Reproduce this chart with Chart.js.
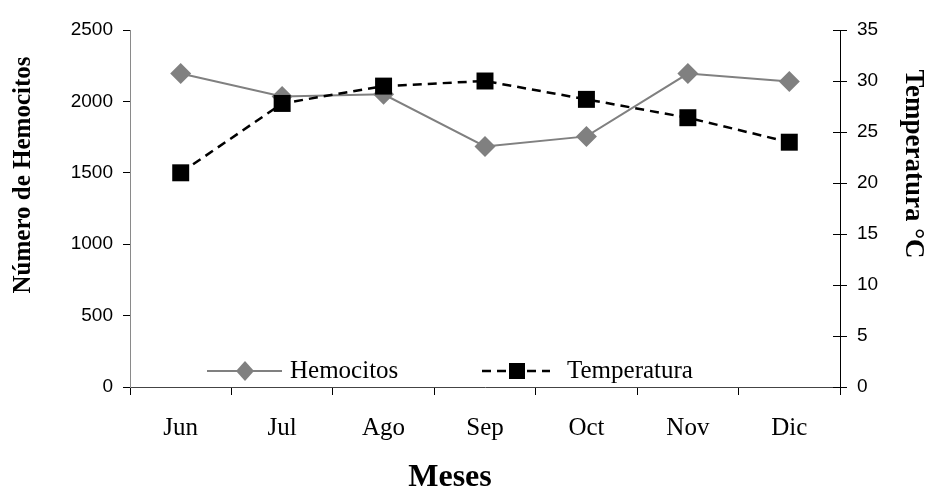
<!DOCTYPE html>
<html>
<head>
<meta charset="utf-8">
<script src="https://cdn.jsdelivr.net/npm/chart.js@4.4.0/dist/chart.umd.min.js"></script>
<style>
  html, body { margin: 0; padding: 0; background: #fff; }
  #wrap { width: 928px; height: 491px; }
</style>
</head>
<body>
<div id="wrap"><canvas id="chart" width="928" height="491"></canvas></div>
<script>
const meses = ['Jun', 'Jul', 'Ago', 'Sep', 'Oct', 'Nov', 'Dic'];
const hemocitos = [2195, 2035, 2050, 1685, 1755, 2195, 2140];
const temperatura = [21, 27.8, 29.5, 30, 28.2, 26.4, 24];
const hemoRange = [0, 2500];
const tempRange = [0, 35];

const SERIF = '"Liberation Serif", "Times New Roman", serif';
const SANS = '"Liberation Sans", Arial, sans-serif';
const GRAY = '#808080';

// axis titles drawn by hand so they sit where the original has them
const axisTitles = {
    id: 'axisTitles',
    afterDraw(chart) {
        const ctx = chart.ctx;
        ctx.save();
        ctx.fillStyle = '#000';
        ctx.textAlign = 'center';
        ctx.textBaseline = 'middle';

        ctx.font = 'bold 25px ' + SERIF;
        ctx.save();
        ctx.translate(24, 175);
        ctx.rotate(-Math.PI / 2);
        ctx.fillText('Número de Hemocitos', 0, 0);
        ctx.restore();

        ctx.font = 'bold 27px ' + SERIF;
        ctx.save();
        ctx.translate(913, 164);
        ctx.rotate(Math.PI / 2);
        ctx.fillText('Temperatura °C', 0, 0);
        ctx.restore();

        ctx.font = 'bold 32px ' + SERIF;
        ctx.fillText('Meses', 450, 478);
        ctx.restore();
    }
};

// legend sits inside the plot, along the bottom
const innerLegend = {
    id: 'innerLegend',
    afterDraw(chart) {
        const ctx = chart.ctx;
        const area = chart.chartArea;
        const y = area.bottom - 16;
        ctx.save();

        // Hemocitos
        ctx.strokeStyle = GRAY;
        ctx.lineWidth = 2;
        ctx.beginPath();
        ctx.moveTo(area.left + 77, y);
        ctx.lineTo(area.left + 152, y);
        ctx.stroke();
        const dx = area.left + 115;
        ctx.fillStyle = GRAY;
        ctx.beginPath();
        ctx.moveTo(dx, y - 10);
        ctx.lineTo(dx + 9, y);
        ctx.lineTo(dx, y + 10);
        ctx.lineTo(dx - 9, y);
        ctx.closePath();
        ctx.fill();

        // Temperatura
        ctx.strokeStyle = '#000';
        ctx.lineWidth = 2.5;
        ctx.setLineDash([9, 6]);
        ctx.beginPath();
        ctx.moveTo(area.left + 352, y);
        ctx.lineTo(area.left + 420, y);
        ctx.stroke();
        ctx.setLineDash([]);
        ctx.fillStyle = '#000';
        ctx.fillRect(area.left + 387 - 8, y - 8, 16, 16);

        ctx.font = '25px ' + SERIF;
        ctx.textAlign = 'left';
        ctx.textBaseline = 'middle';
        ctx.fillText('Hemocitos', area.left + 160, y);
        ctx.fillText('Temperatura', area.left + 437, y);
        ctx.restore();
    }
};

// right axis ticks cross the axis line
const crossTicks = {
    id: 'crossTicks',
    afterDraw(chart) {
        const s = chart.scales.y1;
        const ctx = chart.ctx;
        ctx.save();
        ctx.strokeStyle = '#000';
        ctx.lineWidth = 1;
        s.ticks.forEach((t, i) => {
            const py = Math.round(s.getPixelForTick(i)) + 0.5;
            ctx.beginPath();
            ctx.moveTo(s.left - 7, py);
            ctx.lineTo(s.left, py);
            ctx.stroke();
        });
        ctx.restore();
    }
};

new Chart(document.getElementById('chart'), {
    type: 'line',
    data: {
        labels: meses,
        datasets: [
            {
                label: 'Hemocitos',
                data: hemocitos,
                yAxisID: 'y',
                borderColor: GRAY,
                backgroundColor: GRAY,
                borderWidth: 2,
                pointStyle: 'rectRot',
                pointRadius: 10.5,
                pointBorderWidth: 0,
                pointBackgroundColor: GRAY,
                tension: 0,
                order: 2
            },
            {
                label: 'Temperatura',
                data: temperatura,
                yAxisID: 'y1',
                borderColor: '#000',
                backgroundColor: '#000',
                borderWidth: 2.5,
                borderDash: [9, 6],
                pointStyle: 'rect',
                pointRadius: 12,
                pointBorderWidth: 0,
                pointBackgroundColor: '#000',
                tension: 0,
                order: 1
            }
        ]
    },
    options: {
        responsive: false,
        animation: false,
        layout: { padding: { top: 30, left: 0, right: 0, bottom: 0 } },
        plugins: {
            legend: { display: false },
            tooltip: { enabled: false }
        },
        scales: {
            x: {
                offset: true,
                grid: { offset: true, drawOnChartArea: false, tickLength: 8, color: '#000' },
                border: { color: '#444', width: 1 },
                ticks: { color: '#000', font: { family: SERIF, size: 25 }, padding: 18, maxRotation: 0 },
                afterFit: s => { s.height = 104; }
            },
            y: {
                position: 'left',
                min: hemoRange[0],
                max: hemoRange[1],
                grid: { drawOnChartArea: false, tickLength: 7, color: '#000' },
                border: { color: '#8a8a8a', width: 1 },
                ticks: {
                    stepSize: 500, color: '#000', font: { family: SANS, size: 19 }, padding: 10,
                    callback: v => String(v)
                },
                afterFit: s => { s.width = 130; }
            },
            y1: {
                position: 'right',
                min: tempRange[0],
                max: tempRange[1],
                grid: { drawOnChartArea: false, tickLength: 7, color: '#000' },
                border: { color: '#000', width: 1 },
                ticks: {
                    stepSize: 5, color: '#000', font: { family: SANS, size: 19 }, padding: 10,
                    callback: v => String(v)
                },
                afterFit: s => { s.width = 88; }
            }
        }
    },
    plugins: [axisTitles, innerLegend, crossTicks]
});
</script>
</body>
</html>
